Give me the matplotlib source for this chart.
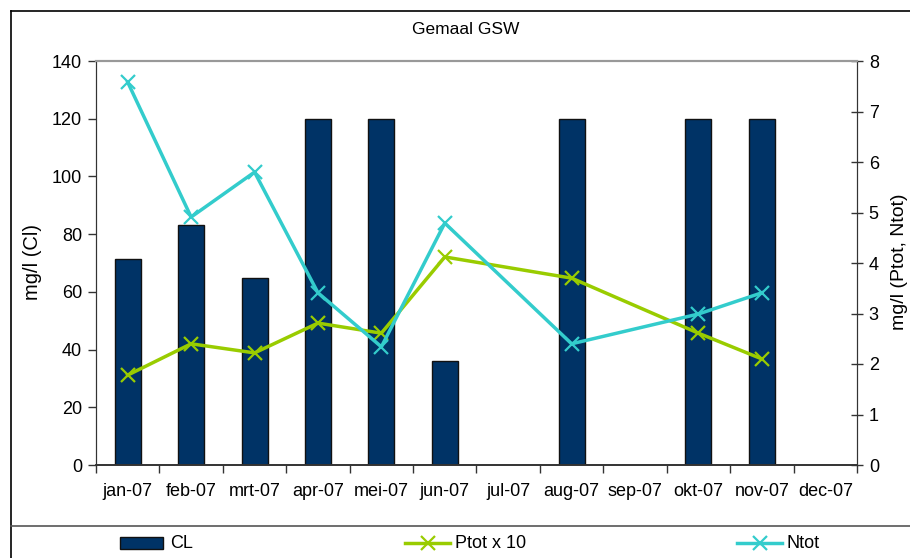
import matplotlib
matplotlib.use("Agg")
import matplotlib.pyplot as plt
import numpy as np
from matplotlib.patches import Rectangle
from matplotlib.lines import Line2D

plt.rcParams['font.family'] = ['Liberation Sans', 'DejaVu Sans']

months = ["jan-07", "feb-07", "mrt-07", "apr-07", "mei-07", "jun-07",
          "jul-07", "aug-07", "sep-07", "okt-07", "nov-07", "dec-07"]
cl = [71.3, 83.2, 64.8, 120, 120, 36, None, 120, None, 120, 120, None]
ptot = [1.78, 2.40, 2.22, 2.81, 2.61, 4.12, None, 3.70, None, 2.61, 2.10, None]
ntot = [7.58, 4.91, 5.80, 3.41, 2.34, 4.79, None, 2.40, None, 2.99, 3.41, None]

title = "Gemaal GSW"
left_label = "mg/l (Cl)"
right_label = "mg/l (Ptot, Ntot)"

FS = 13
FS_LAB = 14.5
FS_TITLE = 12.5
W, H = 910, 558
fig = plt.figure(figsize=(W / 100, H / 100), dpi=100)

x0, x1, yt, yb = 96, 857, 61, 465
ax = fig.add_axes([x0 / W, 1 - yb / H, (x1 - x0) / W, (yb - yt) / H])
ax2 = ax.twinx()

idx = np.arange(len(months))
cl_x = [i for i, v in zip(idx, cl) if v is not None]
cl_v = [v for v in cl if v is not None]
ax.bar(cl_x, cl_v, width=0.41, color="#003366", edgecolor="#111111", linewidth=1.0, zorder=2)

def pts(vals):
    xs = [i for i, v in zip(idx, vals) if v is not None]
    vs = [v for v in vals if v is not None]
    return xs, vs

px, pv = pts(ptot)
nx, nv = pts(ntot)
ax2.plot(px, pv, color="#99CC00", lw=2.5, marker="x", ms=10, mew=1.6, zorder=3)
ax2.plot(nx, nv, color="#33CCCC", lw=2.5, marker="x", ms=10, mew=1.6, zorder=4)

ax.set_xlim(-0.5, 11.5)
ax.set_ylim(0, 140)
ax2.set_ylim(0, 8)
ax.set_yticks(np.arange(0, 141, 20))
ax2.set_yticks(np.arange(0, 9, 1))

ax.set_xticks(np.arange(-0.5, 12, 1))
ax.set_xticklabels([])
ax.set_xticks(idx, minor=True)
ax.set_xticklabels(months, minor=True, fontsize=FS)
ax.tick_params(axis="x", which="major", direction="out", length=6, width=1, color="#333333")
ax.tick_params(axis="x", which="minor", length=0, pad=13)
ax.tick_params(axis="y", direction="out", length=6, width=1, labelsize=FS, pad=4, color="#333333")
ax2.tick_params(axis="y", direction="inout", length=9, width=1, labelsize=FS, pad=4, color="#333333")

for a in (ax, ax2):
    a.spines["top"].set_color("#999999")
    a.spines["top"].set_linewidth(1.5)
    a.spines["left"].set_color("#333333")
    a.spines["right"].set_color("#333333")
    a.spines["bottom"].set_color("#333333")
    a.spines["bottom"].set_linewidth(1.2)

fig.text(32 / W, 1 - 262 / H, left_label, rotation=90, ha="center", va="center", fontsize=FS_LAB)
fig.text(900 / W, 1 - 262 / H, right_label, rotation=90, ha="center", va="center", fontsize=14)
fig.text(466 / W, 1 - 29 / H, title, ha="center", va="center", fontsize=FS_TITLE)

# outer border and legend separator
fig.add_artist(Line2D([11 / W, 11 / W], [0, 1 - 11 / H], color="black", lw=1.2, transform=fig.transFigure))
fig.add_artist(Line2D([11 / W, 1], [1 - 11 / H, 1 - 11 / H], color="black", lw=1.2, transform=fig.transFigure))
fig.add_artist(Line2D([11 / W, 1], [1 - 526 / H, 1 - 526 / H], color="#555555", lw=1.2, transform=fig.transFigure))

# legend
ly = 1 - 543 / H
fig.add_artist(Rectangle((120 / W, 1 - 549 / H), 43 / W, 12 / H, facecolor="#003366",
                         edgecolor="#111111", lw=1.0, transform=fig.transFigure))
fig.text(170 / W, ly, "CL", ha="left", va="center", fontsize=FS)
fig.add_artist(Line2D([405 / W, 450 / W], [ly, ly], color="#99CC00", lw=2.5, transform=fig.transFigure))
fig.add_artist(Line2D([427.5 / W], [ly], color="#99CC00", marker="x", ms=10, mew=1.6, transform=fig.transFigure))
fig.text(455 / W, ly, "Ptot x 10", ha="left", va="center", fontsize=FS)
fig.add_artist(Line2D([737 / W, 782 / W], [ly, ly], color="#33CCCC", lw=2.5, transform=fig.transFigure))
fig.add_artist(Line2D([759.5 / W], [ly], color="#33CCCC", marker="x", ms=10, mew=1.6, transform=fig.transFigure))
fig.text(787 / W, ly, "Ntot", ha="left", va="center", fontsize=FS)

fig.savefig("out.png", dpi=100)
